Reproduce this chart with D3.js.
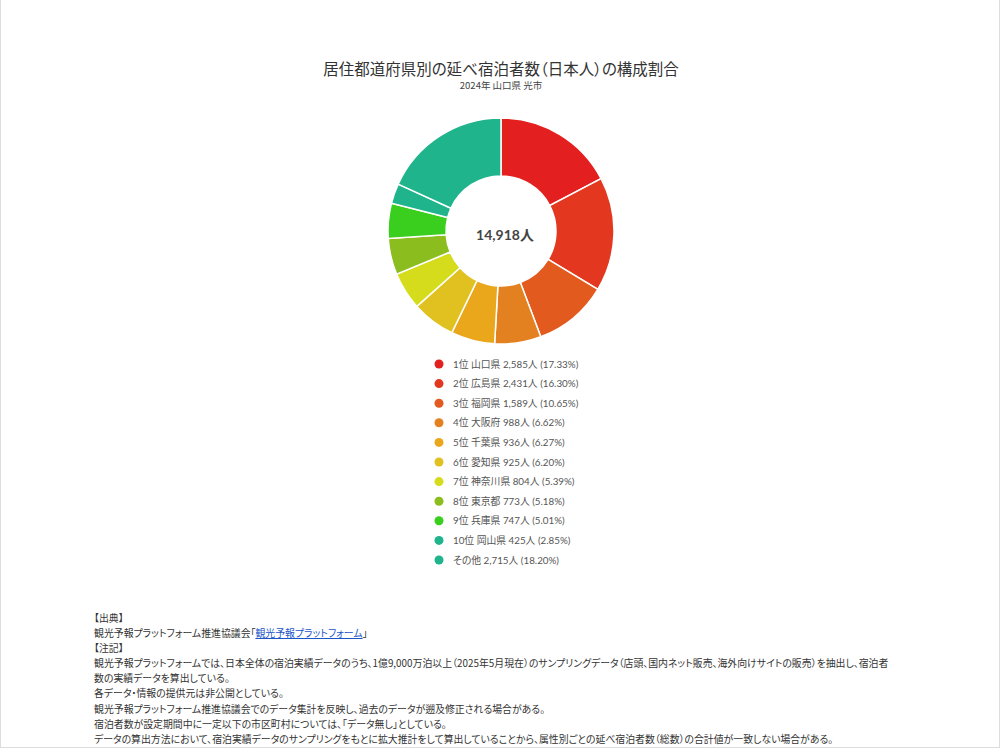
<!DOCTYPE html>
<html lang="ja">
<head>
<meta charset="utf-8">
<script src="https://cdn.jsdelivr.net/npm/d3@7"></script>
<style>
  html, body { margin: 0; padding: 0; background: #fff; }
  #page { position: relative; width: 998px; height: 747px; border: 1px solid #ddd; border-top: none; overflow: hidden; }
  svg { display: block; font-feature-settings: "palt"; }
  #notes {
    position: absolute; left: 93px; top: 611px; width: 880px;
    font-family: "Noto Sans CJK JP", sans-serif; font-size: 9.9px; line-height: 15.1px; color: #333;
    font-feature-settings: "palt";
  }
  #notes div { white-space: nowrap; }
  #notes a { color: #1a55c8; text-decoration: underline; }
</style>
</head>
<body>
<div id="page">
  <svg id="chart" width="998" height="600"></svg>
  <div id="notes"></div>
</div>
<script>
"use strict"

const WIDTH = 998;
const HEIGHT = 600;
const CENTER = { x: 500, y: 231 };
const OUTER_R = 113;
const INNER_R = 55;

const TITLE = "居住都道府県別の延べ宿泊者数（日本人）の構成割合";
const SUBTITLE = "2024年 山口県 光市";
const TOTAL_LABEL = "14,918人";

const RANKS = ["1位", "2位", "3位", "4位", "5位", "6位", "7位", "8位", "9位", "10位", ""];
const PREFS = ["山口県", "広島県", "福岡県", "大阪府", "千葉県", "愛知県", "神奈川県", "東京都", "兵庫県", "岡山県", "その他"];
const VALUES = [2585, 2431, 1589, 988, 936, 925, 804, 773, 747, 425, 2715];
const SHARES = ["17.33%", "16.30%", "10.65%", "6.62%", "6.27%", "6.20%", "5.39%", "5.18%", "5.01%", "2.85%", "18.20%"];
const COLORS = ["#e31f1f", "#e3381f", "#e35a1f", "#e3801f", "#eaa71c", "#e1c120", "#d5dc1c", "#8bbd1e", "#3ace1e", "#1fb48c", "#1fb48c"];

const NOTES = [
    "【出典】",
    "SOURCE",
    "【注記】",
    "観光予報プラットフォームでは、日本全体の宿泊実績データのうち、1億9,000万泊以上（2025年5月現在）のサンプリングデータ（店頭、国内ネット販売、海外向けサイトの販売）を抽出し、宿泊者",
    "数の実績データを算出している。",
    "各データ・情報の提供元は非公開としている。",
    "観光予報プラットフォーム推進協議会でのデータ集計を反映し、過去のデータが遡及修正される場合がある。",
    "宿泊者数が設定期間中に一定以下の市区町村については、「データ無し」としている。",
    "データの算出方法において、宿泊実績データのサンプリングをもとに拡大推計をして算出していることから、属性別ごとの延べ宿泊者数（総数）の合計値が一致しない場合がある。"
];

function drawChart() {
    const svg = d3.select("#chart");
    const fmt = d3.format(",");

    // Titles
    svg.append("text")
        .attr("x", CENTER.x).attr("y", 75)
        .attr("text-anchor", "middle")
        .attr("font-family", "'Noto Sans CJK JP', sans-serif")
        .attr("font-size", 15.5).attr("fill", "#333")
        .text(TITLE);
    svg.append("text")
        .attr("x", CENTER.x).attr("y", 89)
        .attr("text-anchor", "middle")
        .attr("font-family", "'Noto Sans CJK JP', sans-serif")
        .attr("font-size", 9.5).attr("fill", "#444")
        .text(SUBTITLE);

    // Donut
    const pie = d3.pie().sort(null).value(d => d);
    const arc = d3.arc().innerRadius(INNER_R).outerRadius(OUTER_R);
    const g = svg.append("g").attr("transform", `translate(${CENTER.x},${CENTER.y})`);
    g.selectAll("path")
        .data(pie(VALUES))
        .join("path")
        .attr("d", arc)
        .attr("fill", (d, i) => COLORS[i])
        .attr("stroke", "#fff")
        .attr("stroke-width", 1.5);

    g.append("text")
        .attr("x", 4).attr("y", 9)
        .attr("text-anchor", "middle")
        .attr("font-family", "Lato, 'Noto Sans CJK JP', sans-serif")
        .attr("font-weight", "bold")
        .attr("font-size", 14).attr("fill", "#444")
        .text(TOTAL_LABEL);

    // Legend
    const ly = d3.scalePoint().domain(d3.range(VALUES.length)).range([364, 560]);
    const legend = svg.append("g");
    const rows = legend.selectAll("g")
        .data(VALUES)
        .join("g")
        .attr("transform", (d, i) => `translate(438,${ly(i)})`);
    rows.append("circle")
        .attr("r", 4.5)
        .attr("fill", (d, i) => COLORS[i]);
    rows.append("text")
        .attr("x", 14).attr("y", 3.5)
        .attr("font-family", "Lato, 'Noto Sans CJK JP', sans-serif")
        .attr("font-size", 9.8).attr("fill", "#555")
        .text((d, i) => `${RANKS[i] ? RANKS[i] + " " : ""}${PREFS[i]} ${fmt(d)}人 (${SHARES[i]})`);
}

function drawNotes() {
    const notes = d3.select("#notes");
    NOTES.forEach(line => {
        const div = notes.append("div");
        if (line === "SOURCE") {
            div.append("span").text("観光予報プラットフォーム推進協議会「");
            div.append("a").attr("href", "#").text("観光予報プラットフォーム");
            div.append("span").text("」");
        } else {
            div.text(line);
        }
    });
}

drawChart();
drawNotes();
</script>
</body>
</html>
